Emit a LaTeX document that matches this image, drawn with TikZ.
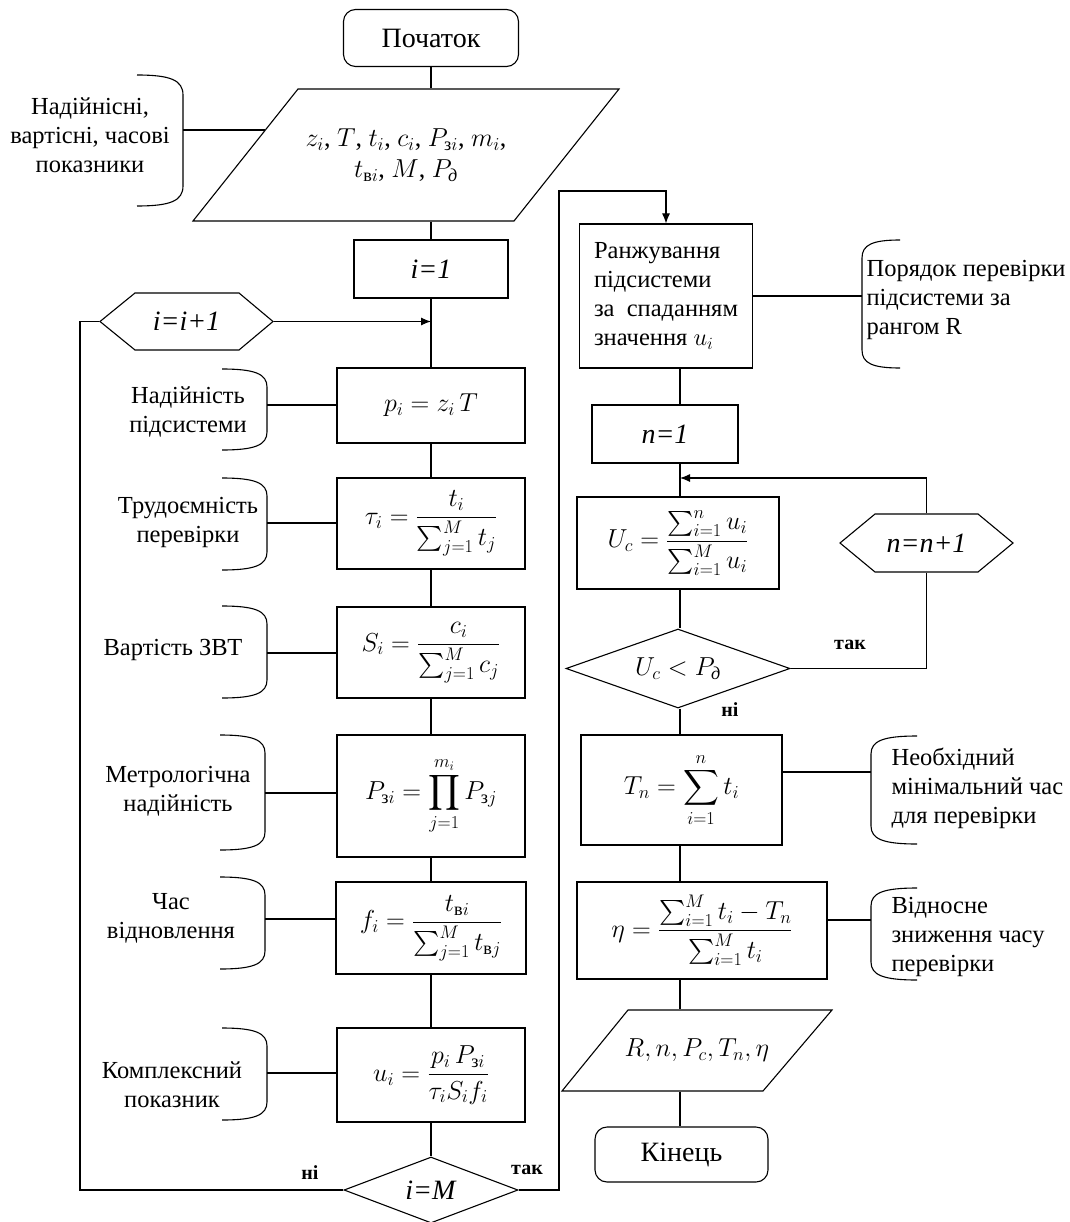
\documentclass[tikz,border=0pt]{standalone}
\usepackage{fix-cm}
\usepackage{amsmath}
\usepackage{fontspec}
\setmainfont{Liberation Serif}
\usetikzlibrary{shapes.geometric,arrows.meta}

\begin{document}
\begin{tikzpicture}[x=1pt,y=-1pt,line width=1.1pt,
	every node/.style={font=\fontsize{24.5}{29}\selectfont, inner sep=0pt},
	big/.style={font=\fontsize{28}{32}\selectfont},
	mth/.style={font=\fontsize{26}{31}\selectfont},
	blk/.style={shape=rectangle, draw, align=center},
	term/.style={shape=rectangle, draw, rounded corners=12pt, big, minimum width=175pt, minimum height=57pt},
	cond/.style={shape=diamond, draw, aspect=2.7},
	note/.style={align=center},
	lnote/.style={align=left, anchor=west},
	lab/.style={font=\fontsize{20}{24}\selectfont\bfseries},
	arr/.style={-{Latex[length=10pt,width=8pt]}}]
		\useasboundingbox (0,0) rectangle (1069,1222);
		\node (start) at (431,38) [term] {Початок};
		\node (inp) at (406,155) [mth, align=center, minimum height=132pt] {$z_i$, $T$, $t_i$, $c_i$, $P_{\text{з}i}$, $m_i$,\\ $t_{\text{в}i}$, $M$, $P_{\textit{д}}$};
		\draw (298,89) -- (619,89) -- (514,221) -- (193,221) -- cycle;
		\node (i1) at (431,269) [blk, big, minimum width=154pt, minimum height=58pt] {\textit{i=1}};
		\node (hex) at (186.5,321.5) [big, minimum width=173pt, minimum height=57pt] {\textit{i=i+1}};
		\draw (100,321.5) -- (135,293) -- (239,293) -- (273,321.5) -- (239,350) -- (135,350) -- cycle;
		\node (pbox) at (431,405.5) [blk, mth, minimum width=188pt, minimum height=75pt] {$p_i = z_i\,T$};
		\node (tau) at (431,523.5) [blk, mth, minimum width=188pt, minimum height=91pt] {$\tau_i = \dfrac{t_i}{\sum_{j=1}^{M} t_j}$};
		\node (sbox) at (431,652.5) [blk, mth, minimum width=188pt, minimum height=91pt] {$S_i = \dfrac{c_i}{\sum_{j=1}^{M} c_j}$};
		\node (prod) at (431,796) [blk, mth, minimum width=188pt, minimum height=122pt] {$P_{\text{з}i} = \displaystyle\prod_{j=1}^{m_i} P_{\text{з}j}$};
		\node (fbox) at (431,928) [blk, mth, minimum width=190pt, minimum height=92pt] {$f_i = \dfrac{t_{\text{в}i}}{\sum_{j=1}^{M} t_{\text{в}j}}$};
		\node (ubox) at (431,1075) [blk, mth, minimum width=188pt, minimum height=94pt] {$u_i = \dfrac{p_i\,P_{\text{з}i}}{\tau_i S_i f_i}$};
		\node (chk) at (431,1190) [cond, big, minimum width=174pt, minimum height=66pt] {\textit{i=M}};

		\node (rank) at (666,296) [blk, align=left, minimum width=173pt, minimum height=144pt] {Ранжування\\підсистеми\\за\ \ спаданням\\значення $u_i$};
		\node (n1) at (665,434) [blk, big, minimum width=146pt, minimum height=58pt] {\textit{n=1}};
		\node (uc) at (678,543) [blk, mth, minimum width=202pt, minimum height=92pt] {$U_c = \dfrac{\sum_{i=1}^{n} u_i}{\sum_{i=1}^{M} u_i}$};
		\node (nhex) at (926.5,543) [big, minimum width=173pt, minimum height=58pt] {\textit{n=n+1}};
		\draw (840,543) -- (875,514) -- (978,514) -- (1013,543) -- (978,572) -- (875,572) -- cycle;
		\node (cmp) at (678,668.5) [cond, mth, minimum width=224pt, minimum height=79pt] {$U_c < P_{\textit{д}}$};
		\node (tn) at (681.5,790) [blk, mth, minimum width=201pt, minimum height=110pt] {$T_n = \displaystyle\sum_{i=1}^{n} t_i$};
		\node (eta) at (702,930.5) [blk, mth, minimum width=250pt, minimum height=97pt] {$\eta = \dfrac{\sum_{i=1}^{M} t_i - T_n}{\sum_{i=1}^{M} t_i}$};
		\node (out) at (697,1050.5) [mth, minimum height=81pt] {$R, n, P_c, T_n, \eta$};
		\draw (628,1010) -- (832,1010) -- (763,1091) -- (562,1091) -- cycle;
		\node (fin) at (681.5,1154.5) [term, minimum width=173pt, minimum height=55pt] {Кінець};

		\node (nt1) at (90,135) [note] {Надійнісні,\\вартісні, часові\\показники};
		\node (nt2) at (188,412) [note] {Надійність\\підсистеми};
		\node (nt3) at (188,522) [note] {Трудоємність\\перевірки};
		\node (nt4) at (173,650) [note] {Вартість ЗВТ};
		\node (nt5) at (178,791) [note] {Метрологічна\\надійність};
		\node (nt6) at (171,918) [note] {Час\\відновлення};
		\node (nt7) at (172,1085) [note] {Комплексний\\показник};
		\node (nt8) at (866,300) [lnote] {Порядок перевірки\\підсистеми за\\рангом R};
		\node (nt9) at (891,788) [lnote] {Необхідний\\мінімальний час\\для перевірки};
		\node (nt10) at (891,937) [lnote] {Відносне\\зниження часу\\перевірки};

		\node (no1) at (310,1173) [lab] {ні};
		\node (yes1) at (527,1170) [lab] {так};
		\node (yes2) at (850,645) [lab] {так};
		\node (no2) at (730,710) [lab] {ні};

		\coordinate (lp) at (80,321.5);
		\coordinate (top) at (559,191);
		\coordinate (rc) at (680,0);
		\coordinate (jn) at (680,478);
		\coordinate (e1) at (265,130);
		\coordinate (b1) at (183,130);
		\coordinate (b2) at (267,405);
		\coordinate (b3) at (267,523);
		\coordinate (b4) at (267,653);
		\coordinate (b5) at (265,793);
		\coordinate (b6) at (265,919);
		\coordinate (b7) at (267,1073);
		\coordinate (q1) at (862,296);
		\coordinate (q2) at (871,772);
		\coordinate (q3) at (871,920);

		\draw (start.south) -- (start.south |- inp.north);
		\draw (inp.south -| i1) -- (i1.north);
		\draw (i1) -- (pbox);
		\draw (pbox) -- (tau);
		\draw (tau) -- (sbox);
		\draw (sbox) -- (prod);
		\draw (prod) -- (fbox);
		\draw (fbox) -- (ubox);
		\draw (ubox) -- (chk);
		\draw[arr] (hex.east) -- (hex.east -| i1);
		\draw (chk.west) -| (lp) -- (hex.west);
		\draw[arr] (chk.east) -| (top) -| (rank.north);

		\draw (rank.south -| rc) -- (n1.north -| rc);
		\draw (n1.south -| rc) -- (uc.north -| rc);
		\draw[arr] (nhex.north) |- (jn);
		\draw (uc.south -| rc) -- (cmp.north -| rc);
		\draw (cmp.east) -| (nhex.south);
		\draw (cmp.south -| rc) -- (tn.north -| rc);
		\draw (tn.south -| rc) -- (eta.north -| rc);
		\draw (eta.south -| rc) -- (out.north -| rc);
		\draw (out.south -| rc) -- (fin.north -| rc);

		\draw (b1) -- (e1);
		\draw (b2) -- (b2 -| pbox.west);
		\draw (b3) -- (b3 -| tau.west);
		\draw (b4) -- (b4 -| sbox.west);
		\draw (b5) -- (b5 -| prod.west);
		\draw (b6) -- (b6 -| fbox.west);
		\draw (b7) -- (b7 -| ubox.west);
		\draw (q1 -| rank.east) -- (q1);
		\draw (q2 -| tn.east) -- (q2);
		\draw (q3 -| eta.east) -- (q3);

		\draw (137,75) .. controls (170,75) and (183,80) .. (183,95) -- (183,186) .. controls (183,201) and (170,206) .. (137,206);
		\draw (222,369) .. controls (255,369) and (267,374) .. (267,387) -- (267,432) .. controls (267,445) and (255,450) .. (222,450);
		\draw (222,478) .. controls (255,478) and (267,483) .. (267,496) -- (267,552) .. controls (267,565) and (255,570) .. (222,570);
		\draw (222,606) .. controls (255,606) and (267,611) .. (267,624) -- (267,680) .. controls (267,693) and (255,698) .. (222,698);
		\draw (220,735) .. controls (253,735) and (265,740) .. (265,753) -- (265,832) .. controls (265,845) and (253,850) .. (220,850);
		\draw (220,877) .. controls (253,877) and (265,882) .. (265,895) -- (265,951) .. controls (265,964) and (253,969) .. (220,969);
		\draw (222,1028) .. controls (255,1028) and (267,1033) .. (267,1046) -- (267,1102) .. controls (267,1115) and (255,1120) .. (222,1120);
		\draw (900,240) .. controls (872,240) and (862,245) .. (862,258) -- (862,350) .. controls (862,363) and (872,368) .. (900,368);
		\draw (917,736) .. controls (883,736) and (871,741) .. (871,754) -- (871,826) .. controls (871,839) and (883,844) .. (917,844);
		\draw (917,888) .. controls (883,888) and (871,893) .. (871,906) -- (871,962) .. controls (871,975) and (883,980) .. (917,980);
\end{tikzpicture}
\end{document}
